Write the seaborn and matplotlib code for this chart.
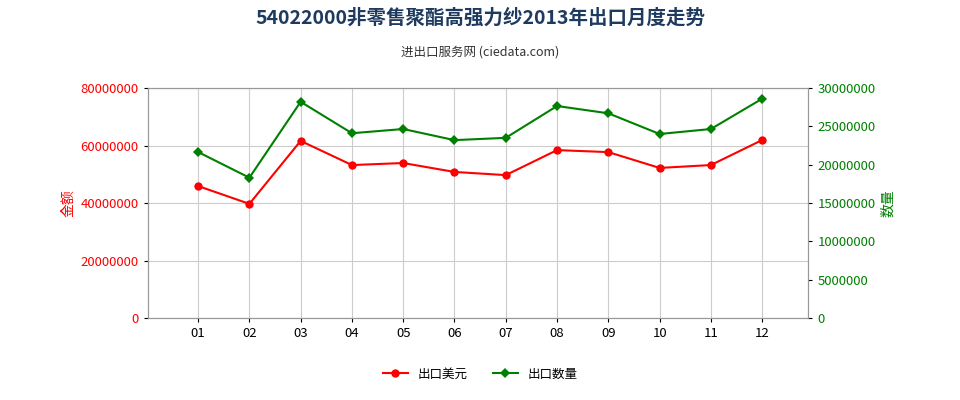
import matplotlib
matplotlib.use("Agg")
import matplotlib.pyplot as plt
from matplotlib import font_manager as fm
import seaborn as sns
import pandas as pd

months = ["01","02","03","04","05","06","07","08","09","10","11","12"]
usd = [45900000,39700000,61600000,53200000,53900000,50800000,49700000,58400000,57700000,52200000,53200000,61900000]
qty = [21650000,18300000,28200000,24100000,24650000,23200000,23500000,27650000,26700000,24000000,24650000,28600000]

cjk = None
for f in fm.fontManager.ttflist:
    if "CJK" in f.name and ("SC" in f.name or cjk is None):
        cjk = f.name
if cjk is None:
    for p in fm.findSystemFonts():
        if "CJK" in p or "Noto" in p and "CJK" in p:
            fm.fontManager.addfont(p)
            cjk = fm.FontProperties(fname=p).get_name()
            break
plt.rcParams["font.family"] = [cjk or "Noto Sans CJK SC", "DejaVu Sans"]
plt.rcParams["font.sans-serif"] = [cjk or "Noto Sans CJK SC", "DejaVu Sans"]

df = pd.DataFrame({"m": months, "usd": usd, "qty": qty})
df["x"] = range(len(months))

fig = plt.figure(figsize=(9.6, 4), dpi=100)
ax = fig.add_axes([0.154, 0.205, 0.688, 0.575])
ax2 = ax.twinx()
sns.lineplot(data=df, x="x", y="usd", ax=ax, color="#ff0000", marker="o", markersize=6, markeredgewidth=0, linewidth=1.5, label="出口美元", legend=False)
sns.lineplot(data=df, x="x", y="qty", ax=ax2, color="#008000", marker="D", markersize=5, markeredgewidth=0, linewidth=1.5, label="出口数量", legend=False)

ax.set_xlim(-0.98, 11.9)
ax.set_ylim(0, 80000000)
ax2.set_ylim(0, 30000000)
ax.set_yticks(range(0, 80000001, 20000000))
ax2.set_yticks(range(0, 30000001, 5000000))
ax.set_xticks(df["x"])
ax.set_xticklabels(months)
ax.ticklabel_format(axis="y", style="plain")
ax2.ticklabel_format(axis="y", style="plain")
ax.grid(True, color="#cccccc", linewidth=0.8)
ax.set_xlabel("")
ax.set_ylabel("金额", color="#ff0000", fontsize=10)
ax2.set_ylabel("数量", color="#008000", fontsize=10)
for lab in ax.get_yticklabels():
    lab.set_color("#ff0000")
for lab in ax2.get_yticklabels():
    lab.set_color("#008000")
ax.tick_params(labelsize=9.5, length=3)
ax2.tick_params(labelsize=9.5, length=3)
for a in (ax, ax2):
    for s in a.spines.values():
        s.set_color("#999999")

fig.text(0.5, 0.94, "54022000非零售聚酯高强力纱2013年出口月度走势", ha="center", fontsize=14, fontweight="bold", color="#1f3a5f")
fig.text(0.5, 0.86, "进出口服务网 (ciedata.com)", ha="center", fontsize=9, color="#333333")

h1, l1 = ax.get_legend_handles_labels()
h2, l2 = ax2.get_legend_handles_labels()
fig.legend(h1 + h2, l1 + l2, loc="center", bbox_to_anchor=(0.5, 0.065), ncol=2, frameon=False, fontsize=9)

fig.savefig("out.png", dpi=100)
